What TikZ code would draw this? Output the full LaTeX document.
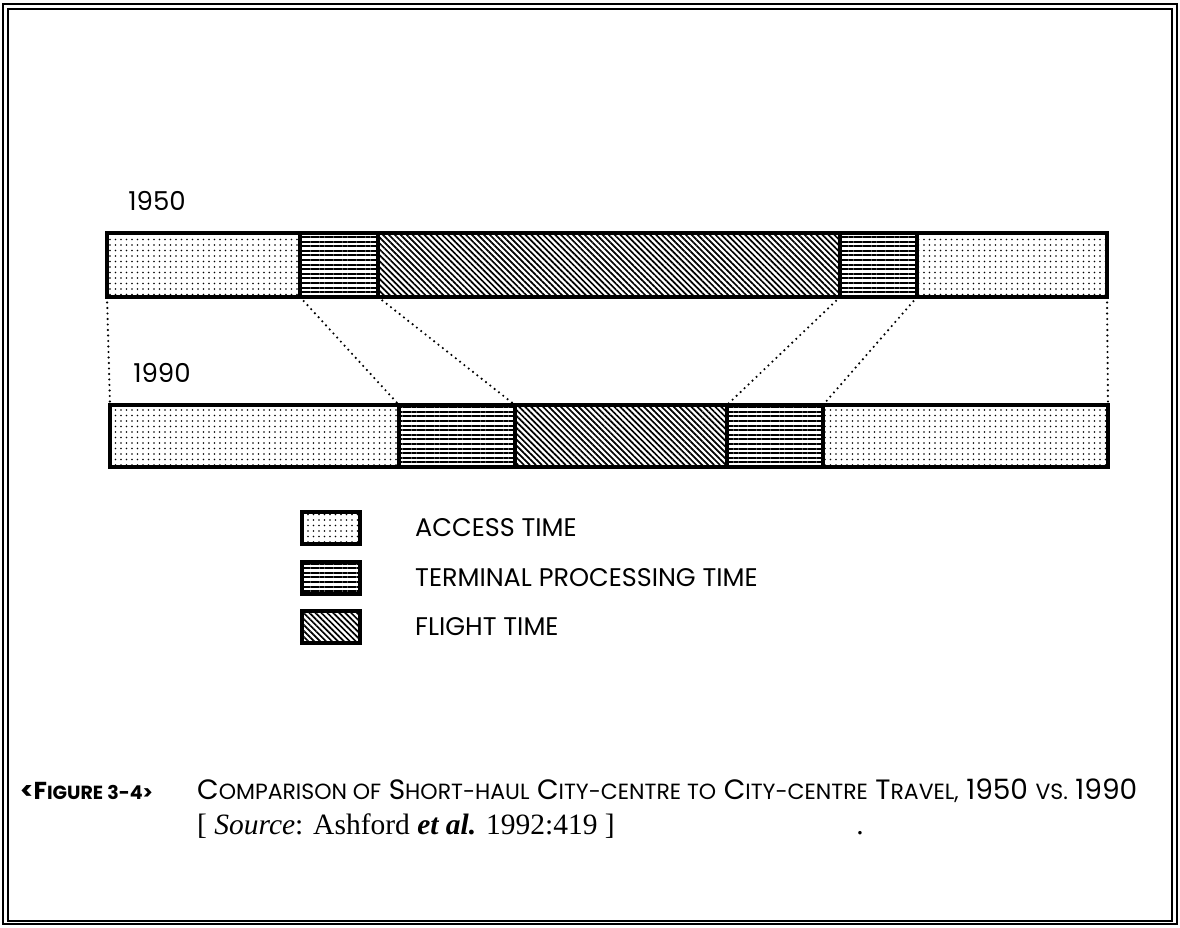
\documentclass[tikz,border=0pt]{standalone}
\usepackage{fontspec}
\setmainfont{Liberation Serif}
\newfontfamily\geo{Poppins}
\usetikzlibrary{patterns.meta}
\newcommand{\lc}[1]{{\fontsize{22}{24}\selectfont #1}}
\newcommand{\lcb}[1]{{\fontsize{19}{22}\selectfont #1}}
\begin{document}
\begin{tikzpicture}[x=1pt,y=-1pt,
  seg/.style={draw, line width=3.4pt, inner sep=0pt, outer sep=0pt, anchor=north west},
  acc/.style={seg, pattern={Dots[distance=5.5pt, radius=0.9pt]}},
  term/.style={seg, pattern={Lines[distance=4.6pt, line width=2pt]}},
  fly/.style={seg, pattern={Lines[angle=-45, distance=4.2pt, line width=1.7pt]}},
  conn/.style={line width=2.4pt, dash pattern=on 0pt off 5.5pt, line cap=round},
  yr/.style={font=\geo\fontsize{26}{28}\selectfont, inner sep=0pt},
  leg/.style={font=\geo\fontsize{25.5}{28}\selectfont, inner sep=0pt, anchor=west},
  frame/.style={line width=2pt}]
\useasboundingbox (0,0) rectangle (1180,927);
% frame
\draw[frame] (3,4) rectangle (1177,924);
\draw[frame] (8,9) rectangle (1172,921);
% years
\node[yr] (y1950) at (157,201) {1950};
\node[yr] (y1990) at (162,373) {1990};
% 1950 bar
\node[acc,  minimum width=193pt, minimum height=64pt] (a1) at (107,233) {};
\node[term, minimum width=78pt,  minimum height=64pt] (t1) at (300,233) {};
\node[fly,  minimum width=462pt, minimum height=64pt] (f1) at (378,233) {};
\node[term, minimum width=77pt,  minimum height=64pt] (t2) at (840,233) {};
\node[acc,  minimum width=190pt, minimum height=64pt] (a2) at (917,233) {};
% 1990 bar
\node[acc,  minimum width=289pt, minimum height=62pt] (b1) at (110,405) {};
\node[term, minimum width=116pt, minimum height=62pt] (s1) at (399,405) {};
\node[fly,  minimum width=212pt, minimum height=62pt] (g1) at (515,405) {};
\node[term, minimum width=96pt,  minimum height=62pt] (s2) at (727,405) {};
\node[acc,  minimum width=285pt, minimum height=62pt] (b2) at (823,405) {};
% connectors
\draw[conn] (a1.south west) -- (b1.north west);
\draw[conn] (a1.south east) -- (b1.north east);
\draw[conn] (t1.south east) -- (s1.north east);
\draw[conn] (f1.south east) -- (g1.north east);
\draw[conn] (t2.south east) -- (s2.north east);
\draw[conn] (a2.south east) -- (b2.north east);
% legend
\node[acc,  minimum width=58pt, minimum height=32pt] (la) at (302,512) {};
\node[term, minimum width=58pt, minimum height=32pt] (lt) at (302,562) {};
\node[fly,  minimum width=58pt, minimum height=32pt] (lf) at (302,611) {};
\node[leg] (ta) at (415,528) {ACCESS TIME};
\node[leg] (tt) at (415,578) {TERMINAL PROCESSING TIME};
\node[leg] (tf) at (415,627) {FLIGHT TIME};
% caption
\node[anchor=base west, inner sep=0pt, font=\geo\bfseries\fontsize{24.5}{26}\selectfont] (fig) at (20,799)
  {<F\lcb{IGURE 3-4>}};
\node[anchor=base west, inner sep=0pt, font=\geo\fontsize{28}{30}\selectfont] (cap) at (197,799)
  {C\lc{OMPARISON OF} S\lc{HORT-HAUL} C\lc{ITY-CENTRE TO} C\lc{ITY-CENTRE} T\lc{RAVEL,} 1950 \lc{VS.} 1990};
\node[anchor=base west, inner sep=0pt, font=\fontsize{29.5}{32}\selectfont] (src) at (197,834)
  {[ \textit{Source}: Ashford \textbf{\textit{et al.}} 1992:419 ]};
\node[anchor=base, inner sep=0pt, font=\fontsize{29.5}{32}\selectfont] (dot) at (860,834) {.};
\end{tikzpicture}
\end{document}
